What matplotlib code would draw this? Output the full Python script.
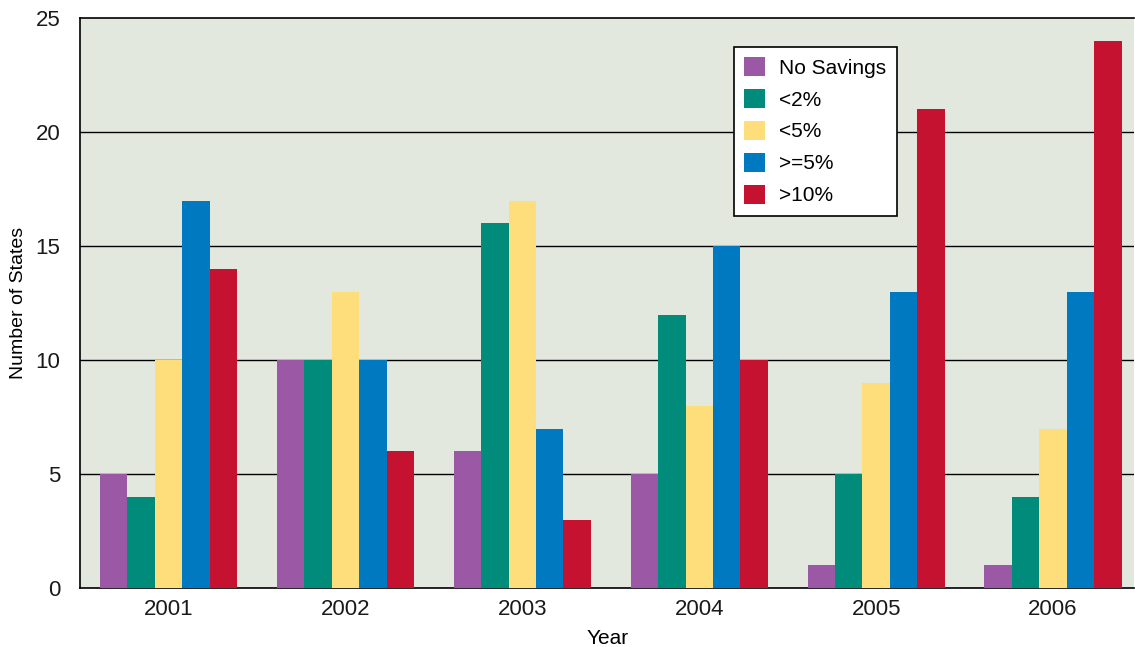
import matplotlib
matplotlib.use("Agg")
import matplotlib.pyplot as plt
import numpy as np

plt.rcParams['font.family'] = ['Liberation Sans', 'DejaVu Sans']

years = ["2001", "2002", "2003", "2004", "2005", "2006"]
series_names = ["No Savings", "<2%", "<5%", ">=5%", ">10%"]
no_savings = [5, 10, 6, 5, 1, 1]
under_2 = [4, 10, 16, 12, 5, 4]
under_5 = [10, 13, 17, 8, 9, 7]
over_5 = [17, 10, 7, 15, 13, 13]
over_10 = [14, 6, 3, 10, 21, 24]
colors = ["#9b59a5", "#008b7a", "#fede7a", "#0079c1", "#c41230"]

fig = plt.figure(figsize=(11.35, 6.47), dpi=100)
ax = fig.add_axes([0.0705, 0.091, 0.929, 0.881])
ax.set_facecolor("#e3e8de")

x = np.arange(len(years))
width = 0.155
all_series = [no_savings, under_2, under_5, over_5, over_10]
for i, (vals, name, col) in enumerate(zip(all_series, series_names, colors)):
    ax.bar(x + (i - 2) * width, vals, width, color=col, label=name, zorder=3)

ax.set_ylim(0, 25)
ax.set_xlim(-0.5, 5.46)
ax.set_yticks([0, 5, 10, 15, 20, 25])
ax.set_xticks(x)
ax.set_xticklabels(years)
ax.tick_params(length=0, labelsize=16, colors="#1a1a1a", pad=8)
ax.tick_params(axis="y", pad=14)
for y in [5, 10, 15, 20]:
    ax.axhline(y, color="black", lw=1, zorder=2)

ax.spines["right"].set_visible(False)
for s in ["left", "bottom", "top"]:
    ax.spines[s].set_linewidth(1.2)

ax.set_xlabel("Year", fontsize=15, labelpad=6)
ax.set_ylabel("Number of States", fontsize=14, labelpad=6)

leg = ax.legend(loc="upper left", bbox_to_anchor=(0.61, 0.968), fontsize=15,
                frameon=True, fancybox=False, edgecolor="black",
                handlelength=1.0, handleheight=1.0, handletextpad=0.7,
                labelspacing=0.55, borderpad=0.5)
leg.get_frame().set_linewidth(1.2)
leg.get_frame().set_alpha(1)
leg.set_zorder(5)

fig.savefig("out.png", dpi=100)
